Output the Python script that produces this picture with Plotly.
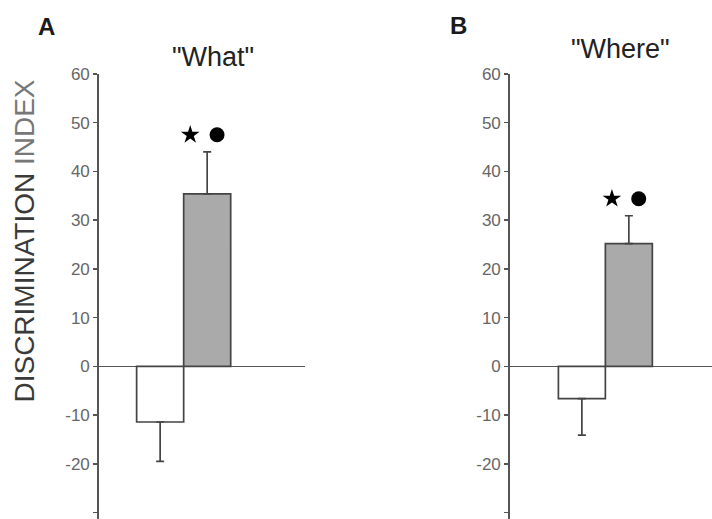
import plotly.graph_objects as go

# ---- data ----
groups = [0, 1]                      # bar index: 0 = white bar, 1 = grey bar
what_means = [-11.4, 35.4]
what_errs = [8.1, 8.6]
where_means = [-6.6, 25.2]
where_errs = [7.5, 5.7]
panel_titles = ['"What"', '"Where"']
panel_letters = ["A", "B"]
y_ticks = [-30, -20, -10, 0, 10, 20, 30, 40, 50, 60]
y_tick_labels = ["-30", "-20", "-10", "0", "10", "20", "30", "40", "50", "60"]

W, H = 712, 519
FONT = "Liberation Sans, Arial, sans-serif"
EDGE = "#444444"
bar_fills = ["#ffffff", "#aaaaaa"]

# the photographed page shows the figure in rows 8..519
TOP, VIS = 8, 511


def px(X):
    return X / W


def py(Y):
    return 1 - (Y - TOP) / VIS


fig = go.Figure()


def add_panel(means, errs, xa, ya):
    for i in groups:
        up = errs[i] if means[i] > 0 else 0
        down = errs[i] if means[i] < 0 else 0
        fig.add_trace(go.Bar(
            x=[groups[i]], y=[means[i]], width=1.0,
            marker=dict(color=bar_fills[i], line=dict(color=EDGE, width=1.7)),
            error_y=dict(type="data", array=[up], arrayminus=[down],
                         color=EDGE, thickness=1.7, width=4, symmetric=False),
            xaxis=xa, yaxis=ya, showlegend=False, hoverinfo="skip"))
    # significance markers above the grey bar
    g = groups[1]
    top = means[1] + errs[1] + 3.5
    fig.add_trace(go.Scatter(
        x=[g - 0.36], y=[top], mode="markers",
        marker=dict(symbol="star", size=14, color="black"),
        xaxis=xa, yaxis=ya, showlegend=False, hoverinfo="skip"))
    fig.add_trace(go.Scatter(
        x=[g + 0.21], y=[top], mode="markers",
        marker=dict(symbol="circle", size=15, color="black"),
        xaxis=xa, yaxis=ya, showlegend=False, hoverinfo="skip"))


add_panel(what_means, what_errs, "x", "y")
add_panel(where_means, where_errs, "x2", "y2")

y_range = [-31.3, 60]
ytop = py(73)

yaxis_common = dict(
    range=y_range, tickvals=y_ticks, ticktext=y_tick_labels,
    ticks="outside", ticklen=4,
    tickcolor="#555555", tickwidth=1.5,
    tickfont=dict(family=FONT, size=17, color="#666666"),
    showline=True, linecolor="#555555", linewidth=1.8,
    showgrid=False, zeroline=True, zerolinecolor="#555555", zerolinewidth=1.8,
    domain=[0, ytop], fixedrange=True,
)
xaxis_common = dict(showgrid=False, zeroline=False, showline=False,
                    showticklabels=False, ticks="", fixedrange=True)

fig.update_layout(
    width=W, height=H,
    margin=dict(l=0, r=0, t=0, b=0),
    paper_bgcolor="white", plot_bgcolor="white",
    barmode="overlay",
    xaxis=dict(domain=[px(99), px(305)], range=[-1.30, 3.08], **xaxis_common),
    yaxis=dict(anchor="x", **yaxis_common),
    xaxis2=dict(domain=[px(510), 1.0], range=[-1.53, 2.77], **xaxis_common),
    yaxis2=dict(anchor="x2", **yaxis_common),
)

annots = [
    dict(text="<b>" + panel_letters[0] + "</b>", x=px(47), y=py(26), size=24, color="#1a1a1a"),
    dict(text="<b>" + panel_letters[1] + "</b>", x=px(458), y=py(25), size=24, color="#1a1a1a"),
    dict(text=panel_titles[0], x=px(213), y=py(56), size=27, color="#222222"),
    dict(text=panel_titles[1], x=px(620), y=py(48), size=27, color="#222222"),
]
for a in annots:
    fig.add_annotation(text=a["text"], x=a["x"], y=a["y"], xref="paper", yref="paper",
                       showarrow=False, xanchor="center", yanchor="middle",
                       font=dict(family=FONT, size=a["size"], color=a["color"]))

fig.add_annotation(
    text='<span style="color:#3a3a3a">DISCRIMINATION</span> '
         '<span style="color:#777777">INDEX</span>',
    x=px(25), y=py(241), xref="paper", yref="paper", textangle=-90,
    showarrow=False, xanchor="center", yanchor="middle",
    font=dict(family=FONT, size=28, color="#3a3a3a"))

fig.write_html(
    "out.html",
    config={"displayModeBar": False, "staticPlot": True},
    post_script=(
        "document.body.style.margin='0';document.body.style.padding='0';"
        "document.documentElement.style.overflow='hidden';"
        "var d=document.getElementById('{plot_id}');"
        "d.style.position='absolute';d.style.top='0px';d.style.left='0px';"
    ),
)
